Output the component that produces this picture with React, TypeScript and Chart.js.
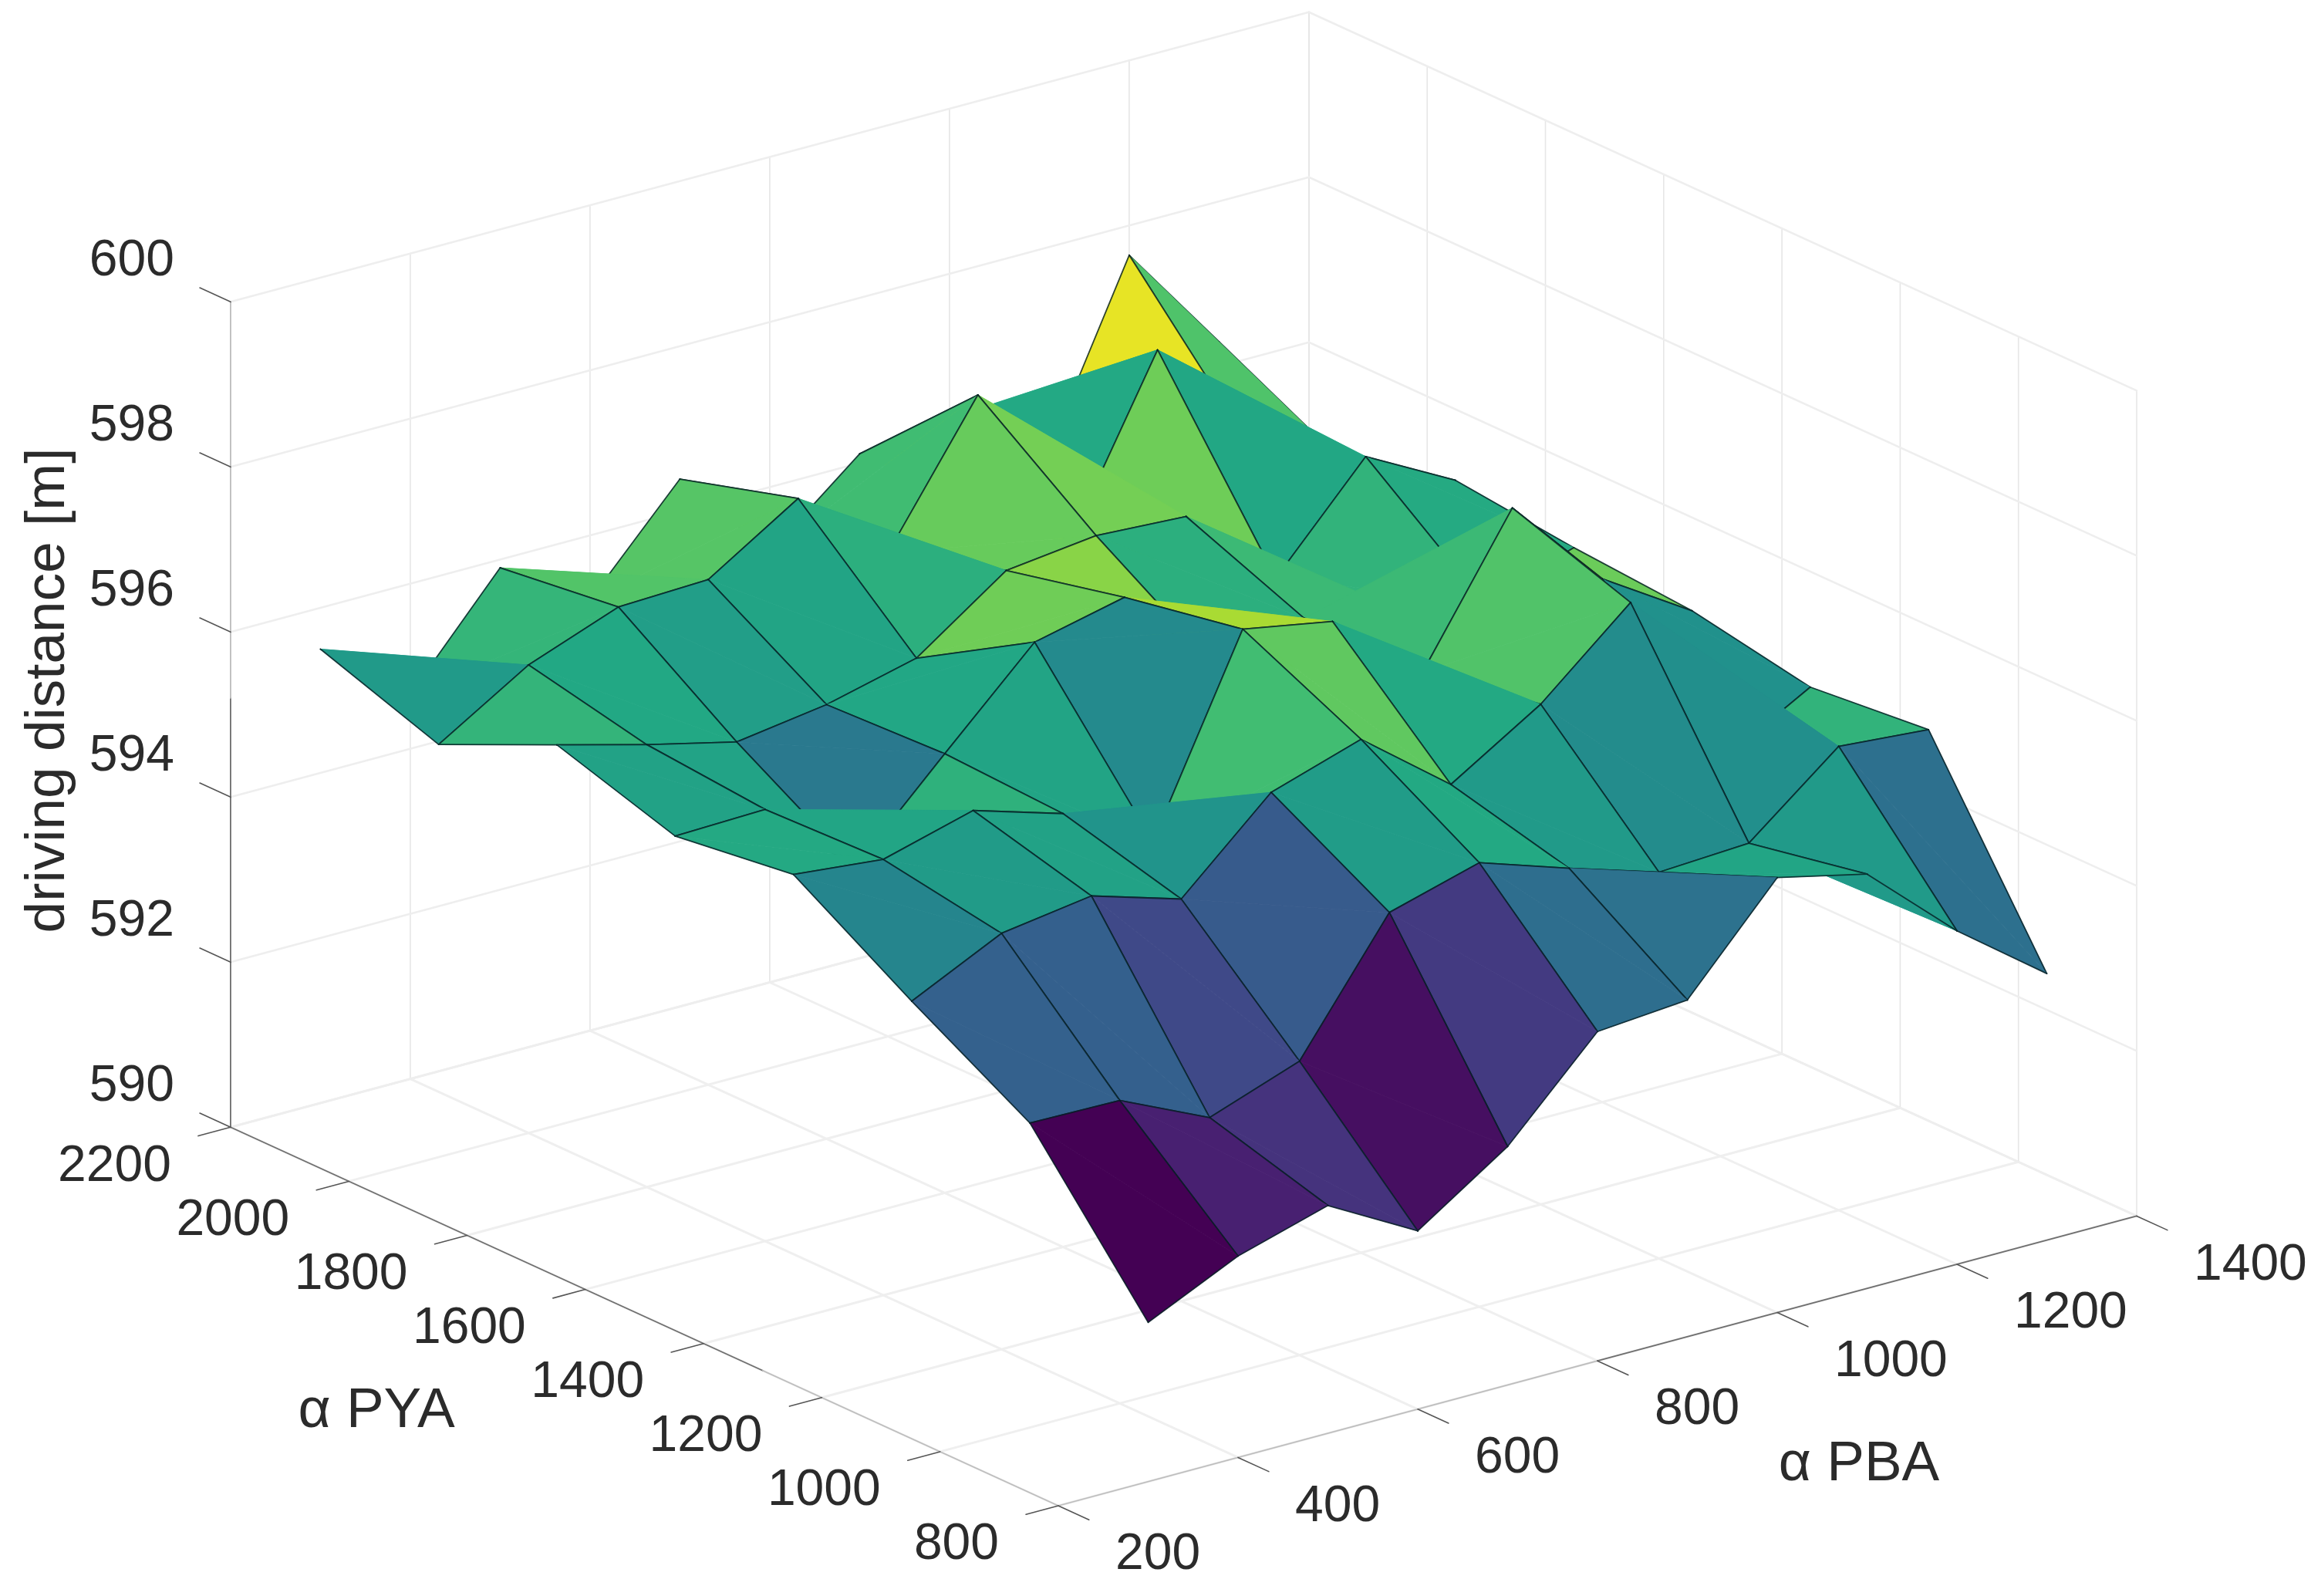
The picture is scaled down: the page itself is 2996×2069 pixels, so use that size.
import React, { useEffect, useRef } from "react";
import { Chart, registerables } from "chart.js";

Chart.register(...registerables);

// driving distance [m], one row per alpha PYA, one value per alpha PBA
const pbaValues = [300, 400, 500, 600, 700, 800, 900, 1000, 1100, 1200, 1300];
const pyaValues = [800, 1000, 1200, 1400, 1600, 1800, 2000, 2200];
const zPya800 = [591.93, 592.44, 592.76, 592.16, 592.89, 593.99, 594.08, 595.27, 595.02, 594.04, 593.23];
const zPya1000 = [593.69, 593.67, 593.17, 593.56, 595.07, 595.38, 595.02, 594.68, 594.74, 595.62, 595.53];
const zPya1200 = [594.51, 595.04, 595.2, 594.87, 595.87, 596.22, 595.38, 596.06, 597.0, 594.78, 595.39];
const zPya1400 = [595.39, 595.28, 595.58, 595.25, 594.62, 596.9, 596.7, 595.79, 597.49, 596.34, 595.66];
const zPya1600 = [595.2, 595.23, 594.24, 595.32, 596.38, 596.63, 595.52, 595.79, 595.62, 595.4, 595.77];
const zPya1800 = [595.65, 595.36, 595.1, 595.26, 595.53, 596.3, 596.43, 596.37, 595.33, 596.51, 595.93];
const zPya2000 = [595.0, 595.67, 596.08, 596.12, 596.81, 595.86, 597.48, 595.37, 597.44, 596.04, 595.57];
const zPya2200 = [595.5, 594.66, 595.9, 595.22, 596.39, 595.21, 596.11, 596.25, 595.3, 597.64, 596.3];
const zRows = [zPya800, zPya1000, zPya1200, zPya1400, zPya1600, zPya1800, zPya2000, zPya2200];

const pbaTicks = [200, 400, 600, 800, 1000, 1200, 1400];
const pyaTicks = [800, 1000, 1200, 1400, 1600, 1800, 2000, 2200];
const zTicks = [590, 592, 594, 596, 598, 600];

const viridis = ["#440154", "#482475", "#414487", "#355f8d", "#2a788e", "#21918c", "#22a884", "#44bf70", "#7ad151", "#bddf26", "#fde725"];

const W = 2996;
const H = 2069;

// Orthographic view of the 3D box onto the 2D linear scales
function project(pba: number, pya: number, z: number) {
  return {
    x: 1372 + ((pba - 200) / 100) * 116.5 - ((pya - 800) / 200) * 153.3,
    y: 1952 - ((pba - 200) / 100) * 31.3 - ((pya - 800) / 200) * 70.1 - (z - 590) * 107,
  };
}

function colorOf(z: number) {
  const all = zRows.flat();
  const lo = Math.min(...all);
  const hi = Math.max(...all);
  const t = Math.max(0, Math.min(1, (z - lo) / (hi - lo))) * (viridis.length - 1);
  const i = Math.min(Math.floor(t), viridis.length - 2);
  const f = t - i;
  const ch = (hex: string, p: number) => parseInt(hex.slice(p, p + 2), 16);
  const mix = (p: number) => Math.round(ch(viridis[i], p) * (1 - f) + ch(viridis[i + 1], p) * f);
  return `rgb(${mix(1)},${mix(3)},${mix(5)})`;
}

type P = { x: number; y: number };

function line(a: P, b: P, color: string, width: number) {
  return {
    data: [a, b],
    showLine: true,
    fill: false,
    borderColor: color,
    borderWidth: width,
    borderCapStyle: "round",
    pointRadius: 0,
    clip: false,
  };
}

function tri(pts: P[], color: string) {
  return {
    data: [...pts, pts[0]],
    showLine: true,
    fill: "shape",
    backgroundColor: color,
    borderColor: color,
    borderWidth: 0.8,
    pointRadius: 0,
    clip: false,
  };
}

function buildDatasets() {
  const out: any[] = [];
  const WALL_V = "#e6e6e6";
  const WALL_H = "#eeeeee";
  const FLOOR = "#efefef";
  const DARK = "#6e6e6e";
  const LIGHT = "#bdbdbd";
  const TICK = "#555555";
  const MESH = "rgba(5,30,35,0.82)";
  const pbaMin = pbaTicks[0];
  const pbaMax = pbaTicks[pbaTicks.length - 1];
  const pyaMin = pyaTicks[0];
  const pyaMax = pyaTicks[pyaTicks.length - 1];
  const zMin = zTicks[0];
  const zMax = zTicks[zTicks.length - 1];

  for (const b of pbaTicks) {
    out.push(line(project(b, pyaMin, zMin), project(b, pyaMax, zMin), FLOOR, 3));
    out.push(line(project(b, pyaMax, zMin), project(b, pyaMax, zMax), WALL_V, 1.6));
  }
  for (const a of pyaTicks) {
    out.push(line(project(pbaMin, a, zMin), project(pbaMax, a, zMin), FLOOR, 3));
    out.push(line(project(pbaMax, a, zMin), project(pbaMax, a, zMax), WALL_V, 1.6));
  }
  for (const z of zTicks) {
    out.push(line(project(pbaMin, pyaMax, z), project(pbaMax, pyaMax, z), WALL_H, 2.6));
    out.push(line(project(pbaMax, pyaMax, z), project(pbaMax, pyaMin, z), WALL_H, 2.6));
  }

  // Box edges: the reference draws them darker on some stretches than on others
  const zSplit = 595.2;
  const pyaSplit = 1300;
  const pbaSplit = 800;
  out.push(line(project(pbaMin, pyaMax, zMin), project(pbaMin, pyaMax, zSplit), DARK, 1.8));
  out.push(line(project(pbaMin, pyaMax, zSplit), project(pbaMin, pyaMax, zMax), LIGHT, 1.8));
  out.push(line(project(pbaMin, pyaMax, zMin), project(pbaMin, pyaSplit, zMin), DARK, 1.8));
  out.push(line(project(pbaMin, pyaSplit, zMin), project(pbaMin, pyaMin, zMin), LIGHT, 1.8));
  out.push(line(project(pbaMin, pyaMin, zMin), project(pbaSplit, pyaMin, zMin), LIGHT, 1.8));
  out.push(line(project(pbaSplit, pyaMin, zMin), project(pbaMax, pyaMin, zMin), DARK, 1.8));
  for (const a of pyaTicks) out.push(line(project(pbaMin, a, zMin), project(pbaMin - 36, a, zMin), TICK, 1.6));
  for (const b of pbaTicks) out.push(line(project(b, pyaMin, zMin), project(b, pyaMin - 52, zMin), TICK, 1.6));
  for (const z of zTicks) out.push(line(project(pbaMin, pyaMax, z), project(pbaMin, pyaMax + 52, z), TICK, 1.6));

  // Painter's order, far corner first. Each cell is two triangles split along a diagonal.
  for (let j = pyaValues.length - 2; j >= 0; j--) {
    for (let k = pbaValues.length - 2; k >= 0; k--) {
      const v = (kk: number, jj: number) => project(pbaValues[kk], pyaValues[jj], zRows[jj][kk]);
      const c = colorOf(zRows[j][k]);
      const a = v(k, j);
      const b = v(k + 1, j);
      const d = v(k + 1, j + 1);
      const e = v(k, j + 1);
      out.push(tri([b, d, e], c));
      out.push(line(b, d, MESH, 1.8));
      out.push(line(d, e, MESH, 1.8));
      out.push(tri([a, b, e], c));
      out.push(line(a, b, MESH, 1.8));
      out.push(line(a, e, MESH, 1.8));
    }
  }
  return out.reverse();
}

const textPlugin = {
  id: "axisText",
  afterDatasetsDraw(chart: any) {
    const { ctx, scales } = chart;
    const px = (p: P) => ({ x: scales.x.getPixelForValue(p.x), y: scales.y.getPixelForValue(p.y) });
    const put = (t: string, p: P, dx: number, dy: number, align: CanvasTextAlign, size: number) => {
      const q = px(p);
      ctx.font = `${size}px "Liberation Sans"`;
      ctx.textAlign = align;
      ctx.textBaseline = "middle";
      ctx.fillStyle = "#2b2b2b";
      ctx.fillText(t, q.x + dx, q.y + dy);
    };
    ctx.save();
    for (const z of zTicks) put(String(z), project(200, 2200, z), -73, -53, "right", 66);
    for (const a of pyaTicks) put(String(a), project(200, a, 590), -77, 51, "right", 66);
    for (const b of pbaTicks) put(String(b), project(b, 800, 590), 74, 64, "left", 66);
    put("α PYA", { x: 488, y: 1830 }, 0, 0, "center", 73);
    put("α PBA", { x: 2410, y: 1899 }, 0, 0, "center", 73);
    const m = px({ x: 63, y: 895 });
    ctx.translate(m.x, m.y);
    ctx.rotate(-Math.PI / 2);
    ctx.font = '73px "Liberation Sans"';
    ctx.textAlign = "center";
    ctx.textBaseline = "middle";
    ctx.fillStyle = "#2b2b2b";
    ctx.fillText("driving distance [m]", 0, 0);
    ctx.restore();
  },
};

export default function App() {
  const ref = useRef<HTMLCanvasElement | null>(null);
  useEffect(() => {
    if (!ref.current) return;
    const chart = new Chart(ref.current, {
      type: "scatter",
      data: { datasets: buildDatasets() },
      options: {
        responsive: false,
        animation: false,
        devicePixelRatio: 1,
        events: [],
        layout: { padding: 0 },
        plugins: { legend: { display: false }, tooltip: { enabled: false } },
        scales: {
          x: { type: "linear", display: false, min: 0, max: W },
          y: { type: "linear", display: false, min: 0, max: H, reverse: true },
        },
      },
      plugins: [textPlugin],
    } as any);
    return () => chart.destroy();
  }, []);
  return (
    <canvas
      ref={ref}
      width={W}
      height={H}
      style={{ position: "fixed", left: 0, top: 0, width: W, height: H, display: "block", background: "#fff" }}
    />
  );
}
